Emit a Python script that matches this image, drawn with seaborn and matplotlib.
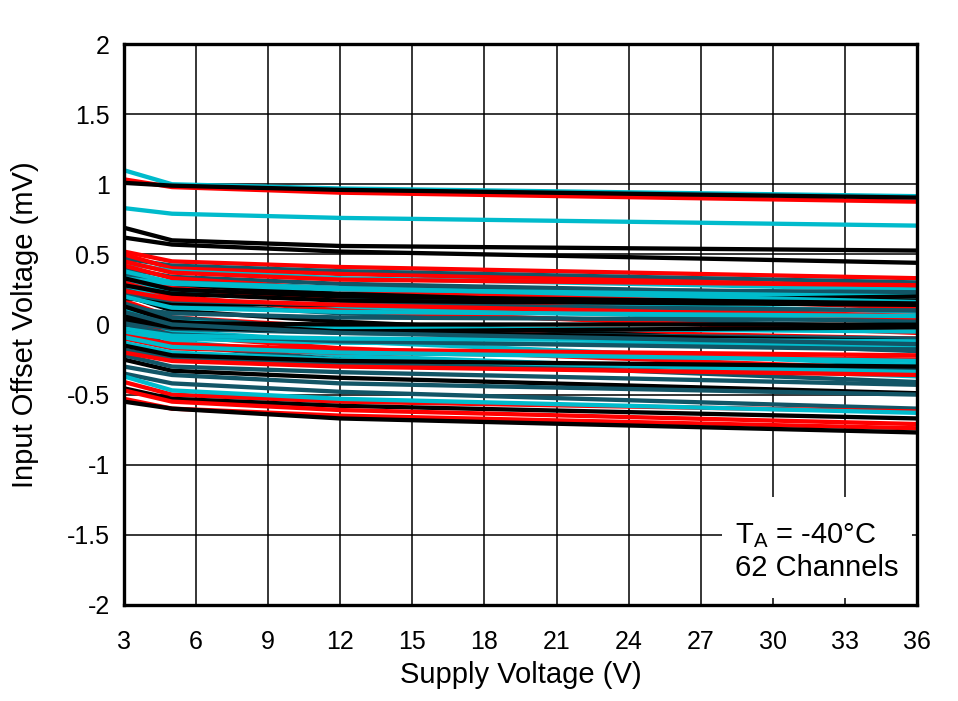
import numpy as np
import pandas as pd
import matplotlib
matplotlib.use("Agg")
import matplotlib.pyplot as plt
from matplotlib.patches import Rectangle
import seaborn as sns

supply_v = [3, 5, 12, 36]

# channel colour group: k=black, r=red, c=cyan, t=teal
channel_group = [
    'c', 'r', 'k', 'c', 'k', 'k', 'r', 't', 'r', 'c',
    't', 'k', 'r', 'c', 'r', 'c', 't', 'r', 'r', 'k',
    't', 'c', 'r', 'c', 't', 'k', 't', 'r', 'c', 'k',
    'r', 'k', 't', 'c', 'k', 't', 'c', 't', 'k', 'c',
    'r', 't', 'c', 't', 'k', 'r', 'c', 'k', 't', 'r',
    'c', 'k', 't', 'r', 'c', 'k', 't', 'r', 'c', 't',
    'k', 'r',
]

# input offset voltage (mV) per channel at 3 V, 5 V, 12 V, 36 V
offset_3v = [
    1.10, 1.035, 1.01, 0.83, 0.69, 0.62, 0.52, 0.47, 0.50, 0.44,
    0.40, 0.35, 0.42, 0.31, 0.38, 0.27, 0.25, 0.30, 0.17, 0.21,
    0.15, 0.08, 0.05, 0.02, -0.03, -0.25, -0.35, -0.41, -0.37, -0.455,
    -0.53, -0.55, 0.36, 0.33, 0.19, 0.12, 0.10, 0.02, 0.06, -0.06,
    -0.10, -0.18, -0.13, -0.22, 0.13, 0.45, 0.38, 0.28, 0.22, 0.24,
    0.20, 0.04, 0.00, -0.08, -0.03, -0.15, -0.30, -0.20, -0.09, 0.09,
    0.33, -0.47,
]
offset_5v = [
    1.00, 0.98, 0.99, 0.79, 0.60, 0.57, 0.45, 0.42, 0.40, 0.38,
    0.34, 0.28, 0.33, 0.24, 0.26, 0.18, 0.15, 0.20, 0.05, 0.10,
    0.05, -0.05, -0.08, -0.12, -0.15, -0.33, -0.42, -0.50, -0.47, -0.53,
    -0.60, -0.60, 0.30, 0.29, 0.15, 0.08, 0.02, -0.03, 0.01, -0.10,
    -0.17, -0.24, -0.20, -0.30, 0.02, 0.37, 0.30, 0.22, 0.17, 0.18,
    0.12, -0.02, -0.07, -0.14, -0.08, -0.22, -0.36, -0.26, -0.16, 0.00,
    0.25, -0.55,
]
offset_12v = [
    0.97, 0.94, 0.96, 0.76, 0.56, 0.52, 0.41, 0.38, 0.36, 0.33,
    0.29, 0.22, 0.25, 0.19, 0.17, 0.12, 0.08, 0.10, -0.02, 0.02,
    -0.04, -0.12, -0.17, -0.22, -0.25, -0.38, -0.48, -0.55, -0.53, -0.58,
    -0.65, -0.67, 0.26, 0.25, 0.14, 0.05, -0.02, -0.06, 0.00, -0.13,
    -0.20, -0.28, -0.25, -0.34, -0.05, 0.32, 0.26, 0.17, 0.14, 0.14,
    0.09, -0.05, -0.12, -0.18, -0.10, -0.26, -0.42, -0.30, -0.20, -0.06,
    0.20, -0.61,
]
offset_36v = [
    0.915, 0.876, 0.905, 0.705, 0.527, 0.44, 0.33, 0.30, 0.27, 0.25,
    0.21, 0.17, 0.12, 0.09, 0.06, 0.02, -0.02, -0.06, -0.10, -0.16,
    -0.19, -0.29, -0.32, -0.37, -0.41, -0.49, -0.60, -0.62, -0.63, -0.67,
    -0.74, -0.77, 0.23, 0.20, 0.20, 0.03, -0.05, -0.10, 0.00, -0.15,
    -0.25, -0.32, -0.34, -0.43, -0.12, 0.28, 0.16, 0.14, 0.10, 0.05,
    0.06, -0.02, -0.18, -0.22, -0.12, -0.30, -0.50, -0.36, -0.26, -0.14,
    0.15, -0.71,
]

group_colors = {'k': '#000000', 'r': '#ff0000', 'c': '#00bbcc', 't': '#125566'}

rows = []
for i, grp in enumerate(channel_group):
    vals = [offset_3v[i], offset_5v[i], offset_12v[i], offset_36v[i]]
    for v, y in zip(supply_v, vals):
        rows.append({'channel': i, 'supply': v, 'offset': y})
df = pd.DataFrame(rows)
palette = {i: group_colors[g] for i, g in enumerate(channel_group)}

plt.rcParams['font.family'] = ['Liberation Sans', 'DejaVu Sans']
plt.rcParams['mathtext.fontset'] = 'custom'
plt.rcParams['mathtext.rm'] = 'Liberation Sans'
plt.rcParams['mathtext.it'] = 'Liberation Sans'

fig = plt.figure(figsize=(9.58, 7.01), dpi=100)
ax = fig.add_axes([0.1294, 0.137, 0.8278, 0.8002])

sns.lineplot(data=df, x='supply', y='offset', hue='channel', palette=palette,
             legend=False, linewidth=3.1, estimator=None, sort=False, ax=ax)

ax.set_xlim(3, 36)
ax.set_ylim(-2, 2)
ax.set_xticks(np.arange(3, 37, 3))
ax.set_yticks([-2, -1.5, -1, -0.5, 0, 0.5, 1, 1.5, 2])
ax.set_yticklabels(['-2', '-1.5', '-1', '-0.5', '0', '0.5', '1', '1.5', '2'])
ax.set_axisbelow(True)
ax.grid(True, color='black', linewidth=1.1)
for s in ax.spines.values():
    s.set_linewidth(2.4)
    s.set_color('black')
ax.tick_params(length=0, labelsize=18)
ax.tick_params(axis='x', pad=18)
ax.tick_params(axis='y', pad=10)
ax.set_xlabel('Supply Voltage (V)', fontsize=21, labelpad=5)
ax.set_ylabel('Input Offset Voltage (mV)', fontsize=21, labelpad=20)

ax.add_patch(Rectangle((0.754, 0.0125), 0.24, 0.18, transform=ax.transAxes,
                       facecolor='white', edgecolor='none', zorder=5))
ax.text(0.77, 0.11, r'T$_\mathregular{A}$ = -40°C', transform=ax.transAxes,
        fontsize=21, zorder=6, va='baseline')
ax.text(0.77, 0.052, '62 Channels', transform=ax.transAxes,
        fontsize=21, zorder=6, va='baseline')

fig.savefig('out.png', dpi=100)
